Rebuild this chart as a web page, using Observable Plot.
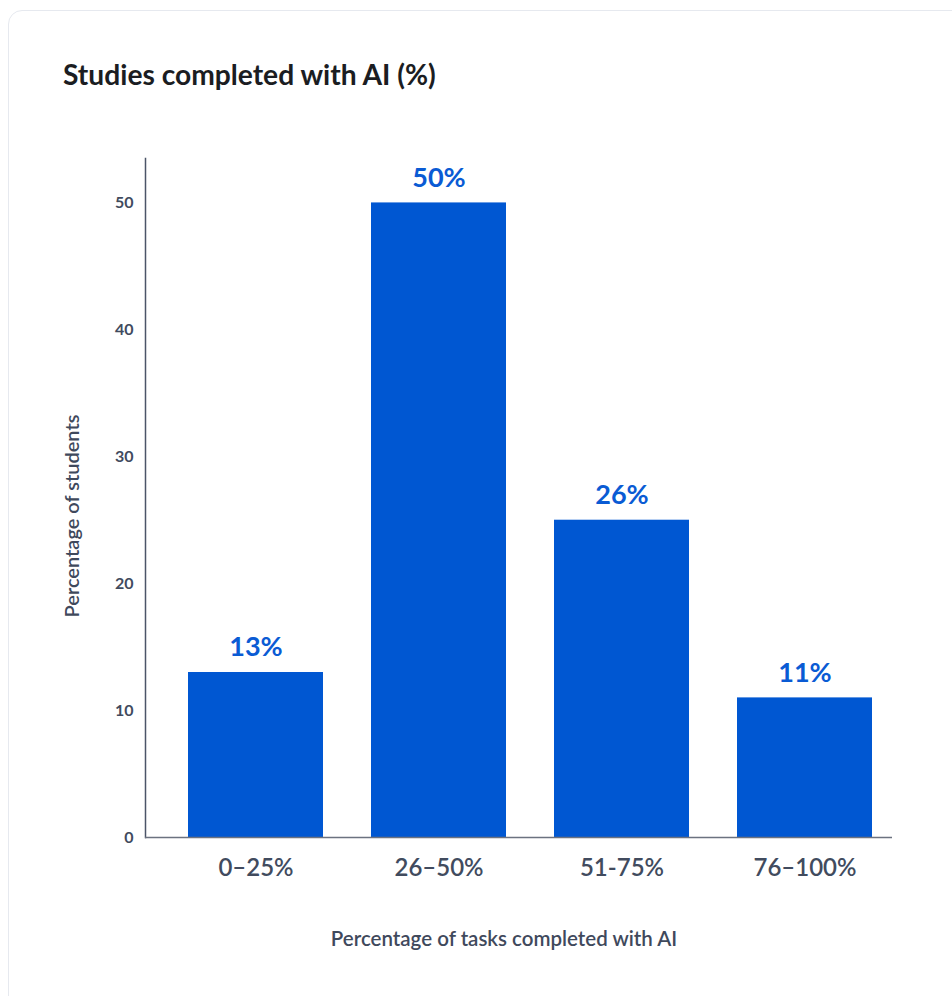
<!DOCTYPE html>
<html>
<head>
<meta charset="utf-8">
<script src="https://cdn.jsdelivr.net/npm/d3@7"></script>
<script src="https://cdn.jsdelivr.net/npm/@observablehq/plot@0.6"></script>
<style>
  html, body { margin: 0; padding: 0; background: #ffffff; width: 952px; height: 996px; overflow: hidden; font-family: Lato, "Open Sans", sans-serif; }
  #card { position: absolute; left: 8px; top: 10px; width: 1000px; height: 1100px; border: 1px solid #e6e9ef; border-radius: 14px; box-sizing: border-box; }
  #title { position: absolute; left: 63px; top: 57px; font-size: 28.2px; font-weight: 700; color: #1b1d22; white-space: nowrap; }
  #chart { position: absolute; left: 0; top: 0; }
</style>
</head>
<body>
<div id="card"></div>
<div id="title">Studies completed with AI (%)</div>
<div id="chart"></div>
<script>
const categories = ["0–25%", "26–50%", "51-75%", "76–100%"];
const values = [13, 50, 25, 11];
const valueLabels = ["13%", "50%", "26%", "11%"];
const yTicks = [0, 10, 20, 30, 40, 50];
const xTitle = "Percentage of tasks completed with AI";
const yTitle = "Percentage of students";

const data = categories.map((c, i) => ({category: c, value: values[i], label: valueLabels[i]}));

const blue = "#0057d2";
const axisText = "#414b5e";

const chart = Plot.plot({
  width: 952,
  height: 996,
  marginTop: 158,
  marginBottom: 159,
  marginLeft: 145,
  marginRight: 60,
  style: {fontFamily: "Lato, 'Open Sans', sans-serif", background: "transparent", overflow: "visible"},
  x: {domain: categories, range: [187, 872], paddingInner: 0.264, paddingOuter: 0},
  y: {domain: [0, 53.5]},
  marks: [
    Plot.barY(data, {x: "category", y: "value", fill: blue}),
    Plot.text(data, {x: "category", y: "value", text: "label", dy: -25, fill: "#0a5bd4", fontSize: 27, fontWeight: 700}),
    Plot.axisY({ticks: yTicks, tickSize: 0, tickPadding: 12, fontSize: 16, fontWeight: 700, color: axisText, label: null}),
    Plot.axisX({tickSize: 0, tickPadding: 21, fontSize: 24, fontWeight: 600, color: axisText, label: null}),
    Plot.frame({anchor: "left", stroke: "#4b5568", strokeWidth: 1.5}),
    Plot.ruleY([0], {stroke: "#6b7280", strokeWidth: 1.5}),
    Plot.text([yTitle], {frameAnchor: "left", textAnchor: "middle", rotate: -90, dx: -73, dy: 18, fontSize: 20, fontWeight: 600, fill: "#3f495c"}),
    Plot.text([xTitle], {frameAnchor: "bottom", textAnchor: "middle", dy: 108, dx: -15, fontSize: 20.5, fontWeight: 600, fill: "#3f495c"})
  ]
});
document.getElementById("chart").appendChild(chart);
</script>
</body>
</html>
